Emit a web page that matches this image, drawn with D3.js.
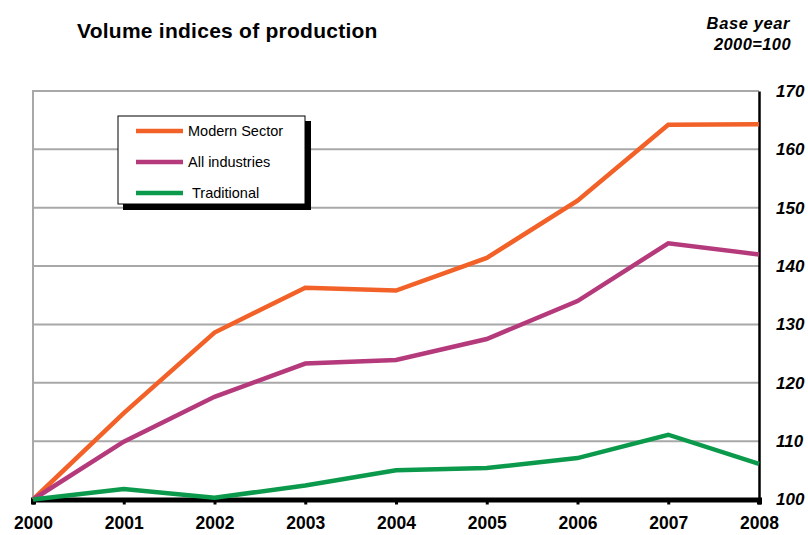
<!DOCTYPE html>
<html><head><meta charset="utf-8">
<script src="https://cdn.jsdelivr.net/npm/d3@7"></script>
<style>
html,body{margin:0;padding:0;background:#fff;}
svg{display:block;font-family:"Liberation Sans",Arial,Helvetica,sans-serif;}
</style></head>
<body><svg id="c" width="808" height="535"></svg>
<script>
const years = [2000, 2001, 2002, 2003, 2004, 2005, 2006, 2007, 2008];
const modernSector = [100, 114.8, 128.6, 136.3, 135.8, 141.4, 151.2, 164.2, 164.3];
const allIndustries = [100, 109.9, 117.6, 123.3, 123.9, 127.5, 134.0, 143.9, 142.0];
const traditional = [100, 101.8, 100.3, 102.4, 105.0, 105.4, 107.1, 111.1, 106.1];
const yTicks = [100, 110, 120, 130, 140, 150, 160, 170];
const seriesNames = ["Modern Sector", "All industries", "Traditional"];
const seriesColors = ["#F26128", "#B53A7C", "#0B9A4C"];
const seriesData = [modernSector, allIndustries, traditional];

const svg = d3.select("#c");
const L = 33, R = 759, T = 91, B = 499.5;
const x = d3.scaleLinear().domain([2000, 2008]).range([L, R]);
const y = d3.scaleLinear().domain([100, 170]).range([B, T]);

// gridlines
svg.append("g").selectAll("line").data(yTicks.filter(d => d > 100)).join("line")
  .attr("x1", L).attr("x2", R).attr("y1", d => y(d)).attr("y2", d => y(d))
  .attr("stroke", "#a8a8a8").attr("stroke-width", 2);
// left border
svg.append("line").attr("x1", L).attr("x2", L).attr("y1", T - 1).attr("y2", B)
  .attr("stroke", "#a8a8a8").attr("stroke-width", 2);

// right axis
const yAxis = d3.axisRight(y).tickValues(yTicks).tickSize(0).tickPadding(17);
const ga = svg.append("g").attr("transform", `translate(${R},0)`).call(yAxis);
ga.select(".domain").attr("stroke", "#000").attr("stroke-width", 2.5);
ga.selectAll("text").attr("font-size", 17).attr("font-weight", "bold").attr("font-style", "italic")
  .attr("fill", "#000").attr("font-family", "Liberation Sans, Arial, sans-serif");

// bottom axis
const xAxis = d3.axisBottom(x).tickValues(years).tickFormat(d3.format("d")).tickSize(5).tickPadding(12);
const gb = svg.append("g").attr("transform", `translate(0,${B})`).call(xAxis);
gb.select(".domain").attr("stroke", "#000").attr("stroke-width", 5);
gb.selectAll(".tick line").attr("stroke", "#000").attr("stroke-width", 3);
gb.selectAll("text").attr("font-size", 17.5).attr("font-weight", "bold")
  .attr("fill", "#000").attr("font-family", "Liberation Sans, Arial, sans-serif");

// lines
const line = d3.line().x((d, i) => x(years[i])).y(d => y(d));
svg.append("g").selectAll("path").data(seriesData).join("path")
  .attr("d", d => line(d)).attr("fill", "none")
  .attr("stroke", (d, i) => seriesColors[i]).attr("stroke-width", 4.5)
  .attr("stroke-linejoin", "miter");

// legend
const lg = svg.append("g");
lg.append("rect").attr("x", 123).attr("y", 121).attr("width", 188).attr("height", 89).attr("fill", "#000");
lg.append("rect").attr("x", 118).attr("y", 116).attr("width", 187).attr("height", 88)
  .attr("fill", "#fff").attr("stroke", "#000").attr("stroke-width", 1);
const ly = [131, 162, 193];
const lx = [188, 188, 192];
seriesNames.forEach((n, i) => {
  lg.append("line").attr("x1", 136).attr("x2", 183).attr("y1", ly[i]).attr("y2", ly[i])
    .attr("stroke", seriesColors[i]).attr("stroke-width", 4.5);
  lg.append("text").attr("x", lx[i]).attr("y", ly[i] + 5).attr("font-size", 14.5).attr("fill", "#000").text(n);
});

// titles
svg.append("text").attr("x", 77).attr("y", 37.5).attr("font-size", 21).attr("letter-spacing", 0.25)
  .attr("font-weight", "bold").text("Volume indices of production");
svg.append("text").attr("x", 790).attr("y", 29).attr("text-anchor", "end").attr("font-size", 16.5)
  .attr("letter-spacing", 0.6).attr("font-weight", "bold").attr("font-style", "italic").text("Base year");
svg.append("text").attr("x", 791).attr("y", 50).attr("text-anchor", "end").attr("font-size", 16.5)
  .attr("letter-spacing", 0.4).attr("font-weight", "bold").attr("font-style", "italic").text("2000=100");
</script></body></html>
